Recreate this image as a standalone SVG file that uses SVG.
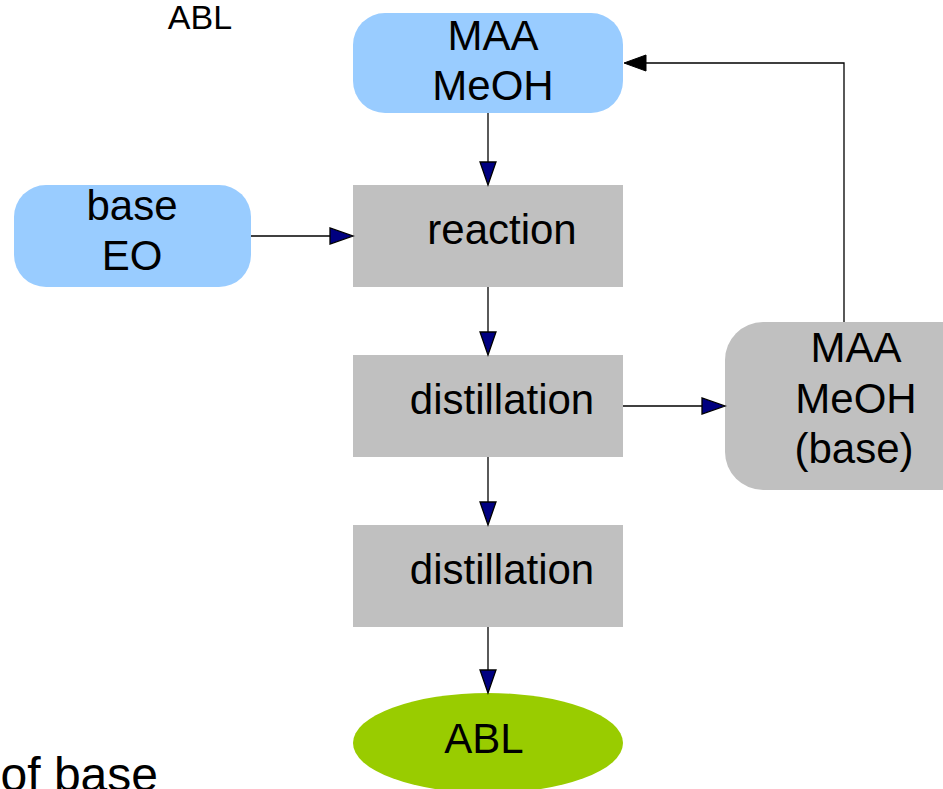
<svg xmlns="http://www.w3.org/2000/svg" width="943" height="789" viewBox="0 0 943 789">
<style>
text{font-family:"Liberation Sans",Arial,sans-serif;font-size:42px;fill:#000;text-anchor:middle}
.blue{fill:#99ccff}
.gray{fill:#c0c0c0}
.green{fill:#99cc00}
.ln{fill:none;stroke:#000;stroke-width:1.3}
.ah{fill:#000080;stroke:#000;stroke-width:1.3;stroke-linejoin:miter}
.ahb{fill:#000;stroke:#000;stroke-width:1}
</style>
<rect width="943" height="789" fill="#fff"/>
<text x="200" y="29" style="font-size:34px">ABL</text>
<text x="158" y="791" style="font-size:48px;text-anchor:end">of base</text>
<g id="maa-meoh">
<rect class="blue" x="353" y="13" width="270" height="100" rx="32"/>
<text x="493" y="50">MAA</text>
<text x="493" y="100">MeOH</text>
</g>
<g id="base-eo">
<rect class="blue" x="14" y="185" width="237" height="102" rx="32"/>
<text x="132" y="220">base</text>
<text x="132" y="270">EO</text>
</g>
<g id="reaction">
<rect class="gray" x="353" y="185" width="270" height="102"/>
<text x="502" y="244">reaction</text>
</g>
<g id="distillation1">
<rect class="gray" x="353" y="355" width="270" height="102"/>
<text x="502" y="414">distillation</text>
</g>
<g id="distillation2">
<rect class="gray" x="353" y="525" width="270" height="102"/>
<text x="502" y="584">distillation</text>
</g>
<g id="recycle">
<rect class="gray" x="725" y="322" width="264" height="168" rx="38"/>
<text x="856" y="362">MAA</text>
<text x="856" y="413">MeOH</text>
<text x="854" y="463">(base)</text>
</g>
<g id="abl">
<ellipse class="green" cx="488" cy="743" rx="135" ry="50"/>
<text x="484" y="753">ABL</text>
</g>
<g id="connectors">
<path class="ln" d="M488 113V163"/>
<polygon class="ah" points="480,162 496,162 488,185"/>
<path class="ln" d="M251 236H331"/>
<polygon class="ah" points="330,228 330,244 353,236"/>
<path class="ln" d="M488 287V333"/>
<polygon class="ah" points="480,332 496,332 488,355"/>
<path class="ln" d="M488 457V503"/>
<polygon class="ah" points="480,502 496,502 488,525"/>
<path class="ln" d="M488 627V671"/>
<polygon class="ah" points="480,670 496,670 488,693"/>
<path class="ln" d="M623 406H703"/>
<polygon class="ah" points="702,398 702,414 725,406"/>
<path class="ln" d="M844 322V63H645"/>
<polygon class="ahb" points="646,55 646,71 624,63"/>
</g>
</svg>
